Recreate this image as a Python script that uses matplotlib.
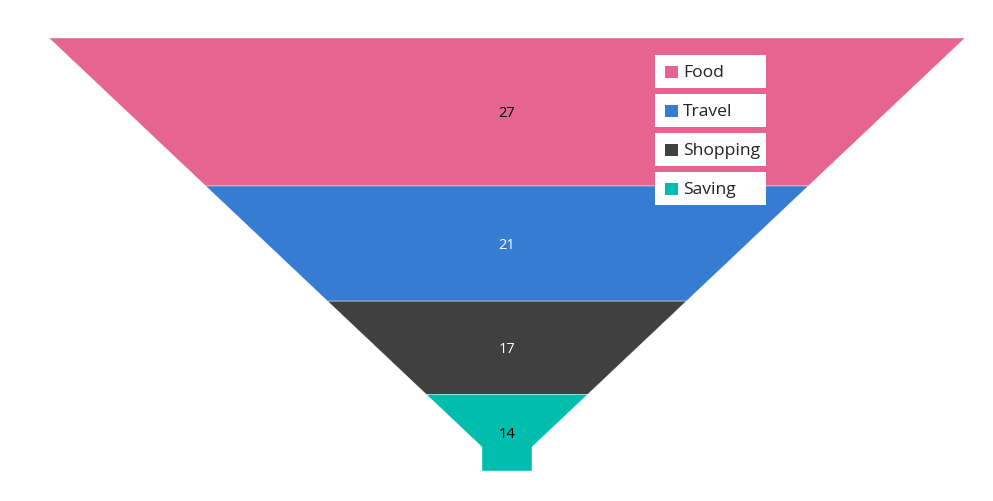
import matplotlib
matplotlib.use("Agg")
import matplotlib.pyplot as plt
from matplotlib.patches import Polygon, Rectangle

plt.rcParams["font.family"] = ["Open Sans", "DejaVu Sans"]

# ── Data ────────────────────────────────────────────────────────────────────
categories = ["Food", "Travel", "Shopping", "Saving"]
values = [27, 21, 17, 14]
colors = ["#E56590", "#357CD2", "#404041", "#00BDAE"]
label_colors = ["black", "white", "white", "black"]

# ── Funnel geometry (pixel units) ──────────────────────────────────────────
W, H = 993, 502
cx = 507
top_y, funnel_h = 39, 433
top_half = 458
neck_half, neck_h = 25, 24
neck_y = top_y + funnel_h - neck_h


def half_width(y):
    if y >= neck_y:
        return neck_half
    t = (y - top_y) / (neck_y - top_y)
    return top_half + (neck_half - top_half) * t


fig = plt.figure(figsize=(W / 100, H / 100), dpi=100)
ax = fig.add_axes([0, 0, 1, 1])
ax.set_xlim(0, W)
ax.set_ylim(H, 0)
ax.axis("off")

total = sum(values)
y = top_y
for cat, val, col, lcol in zip(categories, values, colors, label_colors):
    seg_h = funnel_h * val / total
    ya, yb = y, y + seg_h
    ys = [ya] + ([neck_y] if ya < neck_y < yb else []) + [yb]
    right = [(cx + half_width(v), v) for v in ys]
    left = [(cx - half_width(v), v) for v in reversed(ys)]
    ax.add_patch(Polygon(right + left, closed=True, facecolor=col,
                         edgecolor="white", lw=0.3))
    ax.text(cx, (ya + yb) / 2 + 0.5, str(val), ha="center", va="center",
            fontsize=10.5, color=lcol)
    y = yb

# ── Legend (separate white boxes) ──────────────────────────────────────────
box_x, box_w, box_h = 655, 111, 33
box_y0, box_step = 56, 39
for i, (cat, col) in enumerate(zip(categories, colors)):
    by = box_y0 + i * box_step
    ax.add_patch(Rectangle((box_x, by), box_w, box_h, facecolor="white",
                           edgecolor="none", zorder=5))
    ax.add_patch(Rectangle((box_x + 10, by + 10.5), 12.5, 12.5,
                           facecolor=col, edgecolor="none", zorder=6))
    ax.text(box_x + 28, by + box_h / 2 + 0.5, cat, ha="left", va="center",
            fontsize=12.6, color="#222222", zorder=7)

fig.savefig("out.png", dpi=100)
